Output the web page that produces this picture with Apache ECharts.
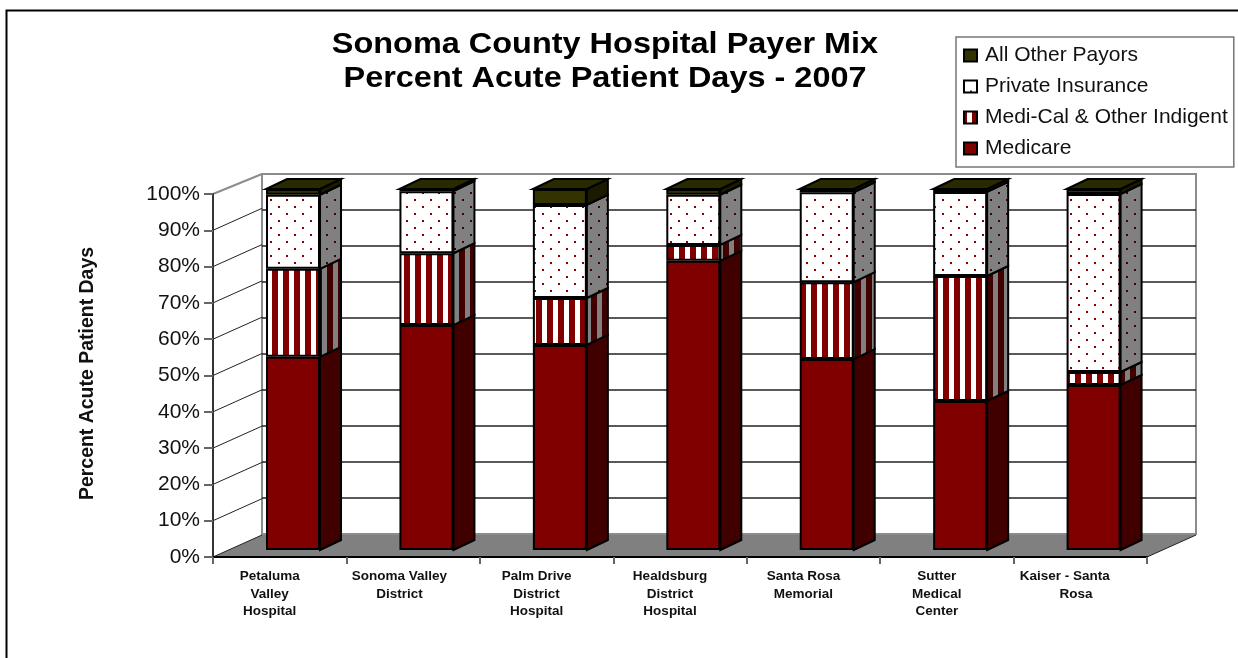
<!DOCTYPE html>
<html>
<head>
<meta charset="utf-8">
<style>html,body{margin:0;padding:0;background:#fff}#c{width:1238px;height:658px}</style>
<script src="https://cdn.jsdelivr.net/npm/echarts@6/dist/echarts.min.js"></script>
</head>
<body>
<div id="c"></div>
<script>
const titleText = 'Sonoma County Hospital Payer Mix\nPercent Acute Patient Days - 2007';
const yAxisTitle = 'Percent Acute Patient Days';
const categories = [
  'Petaluma\nValley\nHospital',
  'Sonoma Valley\u00a0\u00a0\nDistrict\u00a0\u00a0',
  'Palm Drive\nDistrict\nHospital',
  'Healdsburg\nDistrict\nHospital',
  'Santa Rosa\nMemorial',
  'Sutter\nMedical\nCenter',
  'Kaiser - Santa\u00a0\u00a0\u00a0\n\u00a0\u00a0\u00a0Rosa'
];
const medicare   = [53.5, 62.3, 56.8, 80.1, 52.9, 41.3, 45.7];
const mediCal    = [24.4, 19.9, 13.0,  4.4, 21.3, 34.6,  3.6];
const privateIns = [20.5, 17.2, 25.8, 13.9, 24.9, 23.3, 49.3];
const allOther   = [ 1.6,  0.6,  4.4,  1.6,  0.9,  0.8,  1.4];
const yTicks = [0,10,20,30,40,50,60,70,80,90,100];

const BAR_W = 54, SIDE_DX = 21, SIDE_DY = -10, WALL_DX = 49, WALL_DY = -22;

function tile(w, h, bg, draw) {
  const c = document.createElement('canvas');
  c.width = w; c.height = h;
  const g = c.getContext('2d');
  g.fillStyle = bg; g.fillRect(0, 0, w, h);
  draw(g);
  return { image: c, repeat: 'repeat' };
}
function stripes(bg, fg) {
  return tile(11, 4, bg, g => { g.fillStyle = fg; g.fillRect(8, 0, 3, 4); g.fillRect(0, 0, 3, 4); });
}
function dots(bg, fg) {
  return tile(16, 14, bg, g => { g.fillStyle = fg; g.fillRect(14, 3, 2, 2); g.fillRect(6, 10, 2, 2); });
}
const segments = [
  { name: 'Medicare', values: medicare, front: '#800000', side: '#400000' },
  { name: 'Medi-Cal & Other Indigent', values: mediCal, front: stripes('#ffffff', '#800000'), side: stripes('#808080', '#400000') },
  { name: 'Private Insurance', values: privateIns, front: dots('#ffffff', '#8a0000'), side: dots('#808080', '#400000') },
  { name: 'All Other Payors', values: allOther, front: '#333300', side: '#1a1a00', top: '#2a2a00' }
];

const barSeries = segments.map(s => ({
  type: 'bar', name: s.name, stack: 'mix', xAxisIndex: 2, yAxisIndex: 2,
  barWidth: BAR_W, z: 3, data: s.values, silent: true,
  itemStyle: { color: s.front, borderColor: '#000', borderWidth: 2 }
}));

const sideData = [];
categories.forEach((c, i) => {
  let base = 0;
  segments.forEach((s, k) => { sideData.push([i, base, base + s.values[i], k]); base += s.values[i]; });
});

const sideSeries = {
  type: 'custom', xAxisIndex: 2, yAxisIndex: 2, z: 3, silent: true, data: sideData,
  encode: { x: 0, y: [1, 2] },
  renderItem(params, api) {
    const i = api.value(0), k = api.value(3), s = segments[k];
    const p0 = api.coord([i, api.value(1)]), p1 = api.coord([i, api.value(2)]);
    const r = p0[0] + BAR_W / 2, l = p0[0] - BAR_W / 2;
    const children = [{
      type: 'polygon',
      shape: { points: [[r, p0[1]], [r + SIDE_DX, p0[1] + SIDE_DY], [r + SIDE_DX, p1[1] + SIDE_DY], [r, p1[1]]] },
      style: { fill: s.side, stroke: '#000', lineWidth: 2 }
    }];
    if (s.top) {
      children.push({
        type: 'polygon',
        shape: { points: [[l, p1[1]], [r, p1[1]], [r + SIDE_DX, p1[1] + SIDE_DY], [l + SIDE_DX, p1[1] + SIDE_DY]] },
        style: { fill: s.top, stroke: '#000', lineWidth: 2 }
      });
    }
    return { type: 'group', children };
  }
};

const wallSeries = {
  type: 'custom', xAxisIndex: 0, yAxisIndex: 0, z: 1, silent: true,
  data: yTicks.map(v => [0, v]),
  encode: { y: 1 },
  renderItem(params, api) {
    const v = api.value(1), y = api.coord([0, v])[1];
    const cs = params.coordSys, x0 = cs.x, x1 = cs.x + cs.width;
    const children = [];
    if (v === 0) {
      children.push({
        type: 'polygon',
        shape: { points: [[x0, y], [x0 + WALL_DX, y + WALL_DY], [x1 + WALL_DX, y + WALL_DY], [x1, y]] },
        style: { fill: '#808080' }
      });
      children.push({
        type: 'line',
        shape: { x1: x1, y1: y, x2: x1 + WALL_DX, y2: y + WALL_DY },
        style: { stroke: '#222', lineWidth: 1 }
      });
    }
    children.push({
      type: 'line',
      shape: { x1: x0, y1: y, x2: x0 + WALL_DX, y2: y + WALL_DY + (v === 100 ? 2 : 0) },
      style: { stroke: v === 100 ? '#8c8c8c' : '#222', lineWidth: v === 100 ? 2 : 1 }
    });
    return { type: 'group', children };
  }
};

const chart = echarts.init(document.getElementById('c'));
const font = '"Liberation Sans", Arial, sans-serif';
chart.setOption({
  animation: false,
  backgroundColor: '#fff',
  legend: {
    orient: 'vertical', left: 956, top: 37, padding: [7, 6, 7, 7], itemWidth: 13, itemHeight: 12, itemGap: 8,
    icon: 'rect',
    backgroundColor: '#fff', borderColor: '#777', borderWidth: 1.5, selectedMode: false,
    data: ['All Other Payors', 'Private Insurance', 'Medi-Cal & Other Indigent', 'Medicare'],
    textStyle: { fontFamily: font, fontSize: 21, color: '#111', padding: [0, 0, 0, 3], height: 23, lineHeight: 23 }
  },
  graphic: [
    { type: 'rect', z: -1, silent: true,
      shape: { x: 6.5, y: 10.5, width: 1400, height: 800 },
      style: { fill: 'none', stroke: '#000', lineWidth: 2 } },
    { type: 'text', silent: true, x: 605, y: 28, scaleX: 1.1,
      style: { text: titleText, align: 'center', verticalAlign: 'top', fill: '#000',
               font: 'bold 29.5px ' + font, lineHeight: 34 } },
    { type: 'text', silent: true, x: 87, y: 373.5, rotation: Math.PI / 2, scaleX: 0.927,
      style: { text: yAxisTitle, align: 'center', verticalAlign: 'middle', fill: '#111',
               font: 'bold 21px ' + font } }
  ],
  grid: [
    { left: 213, width: 934, top: 194, height: 363 },
    { left: 262, width: 934, top: 174, height: 360, show: true, backgroundColor: '#fff', borderColor: '#8c8c8c', borderWidth: 2 },
    { left: 226.3, width: 934, top: 189, height: 361 }
  ],
  xAxis: [
    { type: 'category', gridIndex: 0, data: categories, z: 2,
      axisLine: { lineStyle: { color: '#000', width: 2 } },
      axisTick: { show: true, length: 7, lineStyle: { color: '#666', width: 2 } },
      axisLabel: { interval: 0, margin: 11, padding: [0, 20, 0, 0], fontFamily: font, fontSize: 13.5, fontWeight: 'bold', color: '#111', lineHeight: 17.5 } },
    { type: 'category', gridIndex: 1, data: categories, show: false },
    { type: 'category', gridIndex: 2, data: categories, show: false }
  ],
  yAxis: [
    { type: 'value', gridIndex: 0, min: 0, max: 100, interval: 10, z: 2,
      axisLine: { show: true, lineStyle: { color: '#333', width: 2 } },
      axisTick: { show: true, length: 9, lineStyle: { color: '#666', width: 2 } },
      splitLine: { show: false },
      axisLabel: { formatter: '{value}%', margin: 13, fontFamily: font, fontSize: 21, color: '#111' } },
    { type: 'value', gridIndex: 1, min: 0, max: 100, interval: 10,
      axisLine: { show: false }, axisTick: { show: false }, axisLabel: { show: false },
      splitLine: { show: true, showMinLine: false, showMaxLine: false, lineStyle: { color: '#222', width: 1.5 } } },
    { type: 'value', gridIndex: 2, min: 0, max: 100, show: false }
  ],
  series: [wallSeries].concat(barSeries, [sideSeries])
});
</script>
</body>
</html>
